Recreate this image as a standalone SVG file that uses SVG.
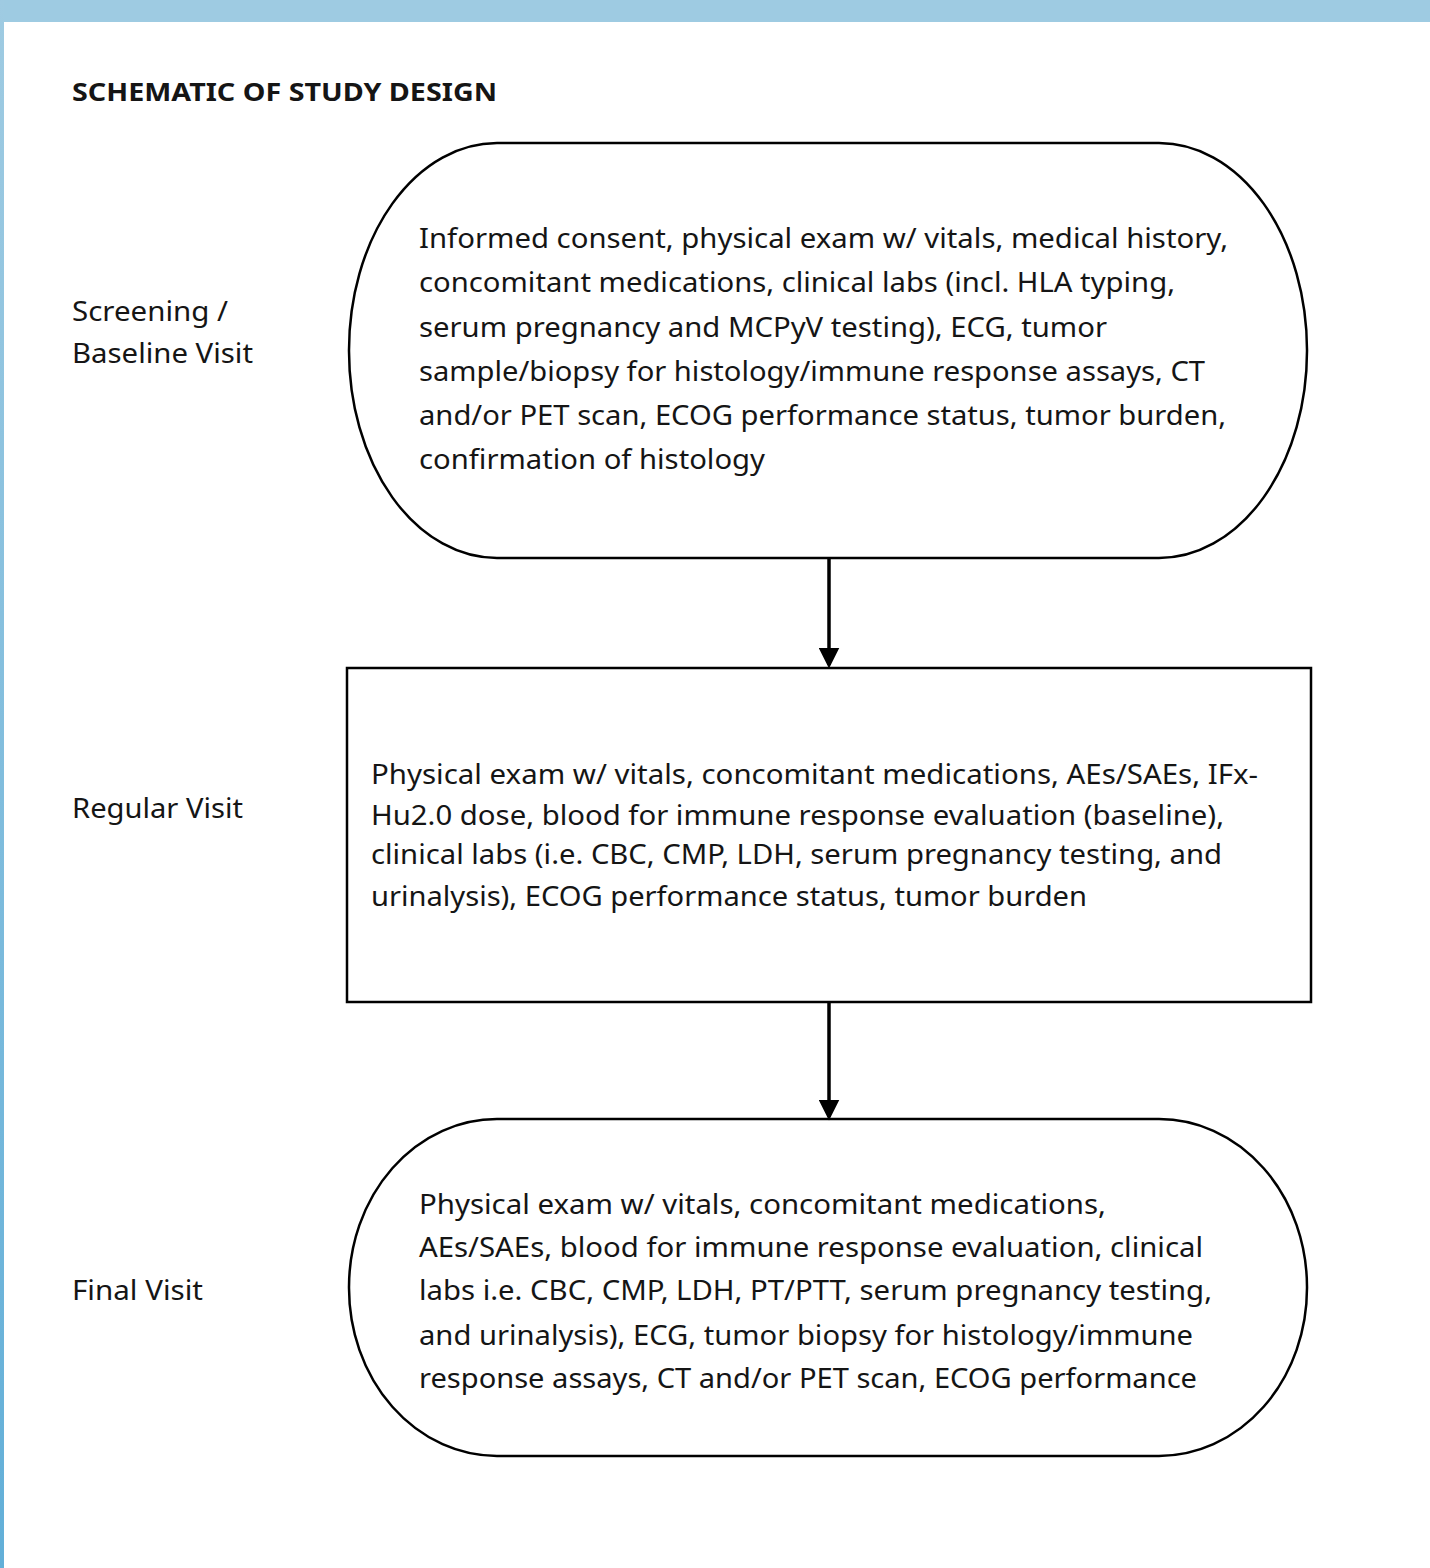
<svg xmlns="http://www.w3.org/2000/svg" width="1430" height="1568" viewBox="0 0 1430 1568">
<style>
text{font-family:"Noto Sans","Open Sans","DejaVu Sans",sans-serif;fill:#151515;}
.t{font-size:28px;}
.lab{font-size:28px;}
.title{font-size:25px;font-weight:bold;}
.shape{fill:#fff;stroke:#000;stroke-width:2.5;}
.conn{stroke:#000;stroke-width:3.5;fill:none;}
</style>
<defs>
<linearGradient id="lg" x1="0" y1="0" x2="0" y2="1">
<stop offset="0" stop-color="#9fcbe2"/>
<stop offset="1" stop-color="#62afd8"/>
</linearGradient>
<marker id="ah" markerWidth="6" markerHeight="6" refX="5" refY="3" orient="auto" markerUnits="strokeWidth">
<path d="M0,0 L6,3 L0,6 Z" fill="#000"/>
</marker>
</defs>
<rect x="0" y="0" width="1430" height="1568" fill="#fff"/>
<rect x="0" y="0" width="1430" height="22" fill="#9ecbe2"/>
<rect x="0" y="0" width="4" height="1568" fill="url(#lg)"/>

<text class="title" x="72" y="101" textLength="425" lengthAdjust="spacingAndGlyphs">SCHEMATIC OF STUDY DESIGN</text>

<g id="label-screening">
<text class="lab" x="72" y="321" textLength="156" lengthAdjust="spacingAndGlyphs">Screening /</text>
<text class="lab" x="72" y="363" textLength="181" lengthAdjust="spacingAndGlyphs">Baseline Visit</text>
</g>
<g id="label-regular">
<text class="lab" x="72" y="818" textLength="171" lengthAdjust="spacingAndGlyphs">Regular Visit</text>
</g>
<g id="label-final">
<text class="lab" x="72" y="1300" textLength="131" lengthAdjust="spacingAndGlyphs">Final Visit</text>
</g>

<g id="node-screening">
<rect class="shape" x="349" y="143" width="958" height="415" rx="148" ry="207"/>
<text class="t" x="419" y="248" textLength="809" lengthAdjust="spacingAndGlyphs">Informed consent, physical exam w/ vitals, medical history,</text>
<text class="t" x="419" y="292" textLength="756" lengthAdjust="spacingAndGlyphs">concomitant medications, clinical labs (incl. HLA typing,</text>
<text class="t" x="419" y="337" textLength="688" lengthAdjust="spacingAndGlyphs">serum pregnancy and MCPyV testing), ECG, tumor</text>
<text class="t" x="419" y="381" textLength="786" lengthAdjust="spacingAndGlyphs">sample/biopsy for histology/immune response assays, CT</text>
<text class="t" x="419" y="425" textLength="807" lengthAdjust="spacingAndGlyphs">and/or PET scan, ECOG performance status, tumor burden,</text>
<text class="t" x="419" y="469" textLength="346" lengthAdjust="spacingAndGlyphs">confirmation of histology</text>
</g>

<g id="node-regular">
<rect class="shape" x="347" y="668" width="964" height="334"/>
<text class="t" x="371" y="784" textLength="887" lengthAdjust="spacingAndGlyphs">Physical exam w/ vitals, concomitant medications, AEs/SAEs, IFx-</text>
<text class="t" x="371" y="825" textLength="853" lengthAdjust="spacingAndGlyphs">Hu2.0 dose, blood for immune response evaluation (baseline),</text>
<text class="t" x="371" y="864" textLength="851" lengthAdjust="spacingAndGlyphs">clinical labs (i.e. CBC, CMP, LDH, serum pregnancy testing, and</text>
<text class="t" x="371" y="906" textLength="716" lengthAdjust="spacingAndGlyphs">urinalysis), ECOG performance status, tumor burden</text>
</g>

<g id="node-final">
<rect class="shape" x="349" y="1119" width="958" height="337" rx="148" ry="168"/>
<text class="t" x="419" y="1214" textLength="687" lengthAdjust="spacingAndGlyphs">Physical exam w/ vitals, concomitant medications,</text>
<text class="t" x="419" y="1257" textLength="784" lengthAdjust="spacingAndGlyphs">AEs/SAEs, blood for immune response evaluation, clinical</text>
<text class="t" x="419" y="1300" textLength="793" lengthAdjust="spacingAndGlyphs">labs i.e. CBC, CMP, LDH, PT/PTT, serum pregnancy testing,</text>
<text class="t" x="419" y="1345" textLength="774" lengthAdjust="spacingAndGlyphs">and urinalysis), ECG, tumor biopsy for histology/immune</text>
<text class="t" x="419" y="1388" textLength="778" lengthAdjust="spacingAndGlyphs">response assays, CT and/or PET scan, ECOG performance</text>
</g>

<g id="connectors">
<line class="conn" x1="829" y1="558" x2="829" y2="665" marker-end="url(#ah)"/>
<line class="conn" x1="829" y1="1002" x2="829" y2="1117" marker-end="url(#ah)"/>
</g>
</svg>
